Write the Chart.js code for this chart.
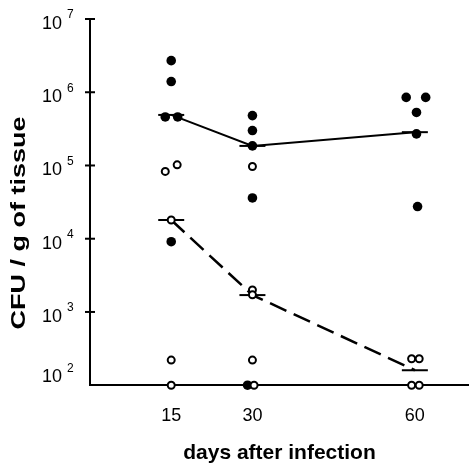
<!DOCTYPE html>
<html>
<head>
<meta charset="utf-8">
<script src="https://cdn.jsdelivr.net/npm/chart.js@4/dist/chart.umd.min.js"></script>
<style>
  body { margin: 0; background: #fff; }
  #wrap { width: 469px; height: 466px; }
</style>
</head>
<body>
<div id="wrap"><canvas id="cfu-chart" width="469" height="466"></canvas></div>
<script>
// days after infection, with a little jitter where points sit side by side
const filledDays = [15, 15, 13.9, 16.2, 15, 30, 30, 30, 30, 29.1, 58.4, 62, 60.3, 60.3, 60.5];
const filledCfu = [2.7e6, 1.4e6, 4.6e5, 4.6e5, 9.1e3, 4.8e5, 3.0e5, 1.85e5, 3.6e4, 100, 8.5e5, 8.5e5, 5.3e5, 2.7e5, 2.75e4];

const openDays = [13.9, 16.1, 15, 15, 15, 30, 30, 30, 30, 30.3, 59.4, 60.8, 59.4, 60.8];
const openCfu = [8.3e4, 1.02e5, 1.8e4, 220, 100, 9.7e4, 2.0e3, 1.72e3, 220, 100, 230, 230, 100, 100];

const meanDays = [15, 30, 60];
const meanFilled = [4.9e5, 1.85e5, 2.85e5];
const meanOpen = [1.8e4, 1.7e3, 160];

const xTicks = [15, 30, 60];
const yExponents = [2, 3, 4, 5, 6, 7];
const yTitle = "CFU / g of tissue";

const FONT = "'Liberation Sans', Arial, sans-serif";

function pts(xs, ys) {
  return xs.map((x, i) => ({ x: x, y: ys[i] }));
}

// y axis: 10 with raised exponent, small ticks across the axis, stretched title
const yAxisExtras = {
  id: "yAxisExtras",
  afterDraw(chart) {
    const ctx = chart.ctx;
    const y = chart.scales.y;
    const x0 = chart.chartArea.left;
    ctx.save();
    ctx.strokeStyle = "#000";
    ctx.lineWidth = 2;
    ctx.fillStyle = "#000";
    yExponents.forEach(e => {
      const py = y.getPixelForValue(Math.pow(10, e));
      if (e > 2) {
        ctx.beginPath();
        ctx.moveTo(x0 - 5, py);
        ctx.lineTo(x0 + 5, py);
        ctx.stroke();
      }
      const ly = py + (e === 2 ? -8 : 5);
      ctx.font = "18px " + FONT;
      ctx.textAlign = "right";
      ctx.textBaseline = "middle";
      ctx.fillText("10", 62, ly);
      ctx.font = "12px " + FONT;
      ctx.textAlign = "left";
      ctx.fillText(String(e), 67, ly - 9);
    });

    ctx.translate(19, 223);
    ctx.rotate(-Math.PI / 2);
    ctx.scale(1.35, 1);
    ctx.font = "bold 20px " + FONT;
    ctx.textAlign = "center";
    ctx.textBaseline = "middle";
    ctx.fillText(yTitle, 0, 0);
    ctx.restore();
  }
};

const ctx = document.getElementById("cfu-chart").getContext("2d");

new Chart(ctx, {
  type: "scatter",
  data: {
    datasets: [
      {
        data: pts(openDays, openCfu),
        pointRadius: 3.5,
        pointBorderWidth: 2,
        pointBackgroundColor: "#fff",
        pointBorderColor: "#000"
      },
      {
        data: pts(filledDays, filledCfu),
        pointRadius: 4.8,
        pointBorderWidth: 0,
        pointBackgroundColor: "#000",
        pointBorderColor: "#000"
      },
      {
        data: pts(meanDays, meanFilled),
        showLine: true,
        borderColor: "#000",
        borderWidth: 2,
        pointStyle: "line",
        pointRadius: 13,
        pointBorderWidth: 2,
        pointBorderColor: "#000"
      },
      {
        data: pts(meanDays, meanOpen),
        showLine: true,
        borderColor: "#000",
        borderWidth: 2.5,
        borderDash: [18, 8],
        pointStyle: "line",
        pointRadius: 13,
        pointBorderWidth: 2,
        pointBorderColor: "#000"
      }
    ]
  },
  options: {
    responsive: false,
    animation: false,
    devicePixelRatio: 1,
    clip: false,
    layout: { autoPadding: false, padding: { top: 19, right: 0, bottom: 0, left: 0 } },
    plugins: {
      legend: { display: false },
      tooltip: { enabled: false }
    },
    scales: {
      x: {
        type: "linear",
        min: 0,
        max: 70,
        afterBuildTicks: s => { s.ticks = xTicks.map(v => ({ value: v })); },
        grid: { display: false, drawTicks: false },
        border: { display: true, color: "#000", width: 2 },
        ticks: {
          color: "#000",
          padding: 20,
          maxRotation: 0,
          font: { family: FONT, size: 18 }
        },
        title: {
          display: true,
          text: "days after infection",
          color: "#000",
          padding: { top: -6, bottom: 0 },
          font: { family: FONT, size: 21, weight: "bold" }
        }
      },
      y: {
        type: "logarithmic",
        min: 100,
        max: 1e7,
        afterFit: s => { s.width = 90; },
        grid: { display: false, drawTicks: false },
        border: { display: true, color: "#000", width: 2 },
        ticks: { display: false }
      }
    }
  },
  plugins: [yAxisExtras]
});
</script>
</body>
</html>
